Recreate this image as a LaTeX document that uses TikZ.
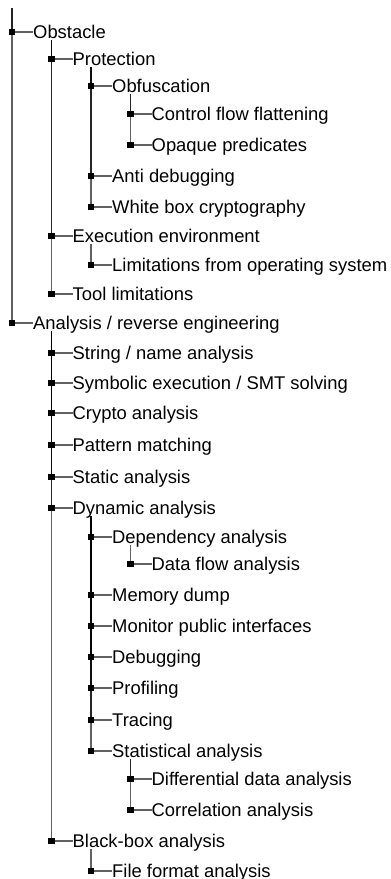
\documentclass[tikz,border=0pt]{standalone}
\usepackage{fontspec}
\setmainfont{Liberation Sans}
\begin{document}
\begin{tikzpicture}[x=1bp,y=-1bp,
  lbl/.style={anchor=west,inner sep=0pt,text height=13.2bp,text depth=0pt,font=\fontsize{18.4bp}{22bp}\selectfont},
  edge/.style={draw=black,draw opacity=0.62,line width=1.1bp},
  marker/.style={fill=black,inner sep=0pt,minimum size=6.5bp,rectangle}]
\useasboundingbox (0,0) rectangle (390,879);
\coordinate (root) at (12,8);
\node[lbl] (obstacle) at (33,32) {Obstacle};
\node[lbl] (protection) at (72.5,59) {Protection};
\node[lbl] (obfuscation) at (112,86) {Obfuscation};
\node[lbl] (cff) at (151.5,114) {Control flow flattening};
\node[lbl] (opaque) at (151.5,145) {Opaque predicates};
\node[lbl] (antidebug) at (112,176) {Anti debugging};
\node[lbl] (whitebox) at (112,207) {White box cryptography};
\node[lbl] (execenv) at (72.5,236) {Execution environment};
\node[lbl] (limitations) at (112,265) {Limitations from operating system};
\node[lbl] (toollim) at (72.5,294) {Tool limitations};
\node[lbl] (analysis) at (33,323) {Analysis / reverse engineering};
\node[lbl] (string) at (72.5,353) {String / name analysis};
\node[lbl] (symbolic) at (72.5,383) {Symbolic execution / SMT solving};
\node[lbl] (crypto) at (72.5,413) {Crypto analysis};
\node[lbl] (pattern) at (72.5,445) {Pattern matching};
\node[lbl] (static) at (72.5,477) {Static analysis};
\node[lbl] (dynamic) at (72.5,508) {Dynamic analysis};
\node[lbl] (dependency) at (112,537) {Dependency analysis};
\node[lbl] (dataflow) at (151.5,564) {Data flow analysis};
\node[lbl] (memdump) at (112,595) {Memory dump};
\node[lbl] (monitor) at (112,626) {Monitor public interfaces};
\node[lbl] (debugging) at (112,657) {Debugging};
\node[lbl] (profiling) at (112,688) {Profiling};
\node[lbl] (tracing) at (112,720) {Tracing};
\node[lbl] (statistical) at (112,751) {Statistical analysis};
\node[lbl] (differential) at (151.5,779) {Differential data analysis};
\node[lbl] (correlation) at (151.5,810) {Correlation analysis};
\node[lbl] (blackbox) at (72.5,841) {Black-box analysis};
\node[lbl] (fileformat) at (112,871) {File format analysis};
\draw[edge] (root) |- (obstacle.west);
\draw[edge] (root) |- (analysis.west);
\foreach \p/\c in {obstacle/protection, protection/obfuscation, obfuscation/cff, obfuscation/opaque,
  protection/antidebug, protection/whitebox, obstacle/execenv, execenv/limitations, obstacle/toollim,
  analysis/string, analysis/symbolic, analysis/crypto, analysis/pattern, analysis/static, analysis/dynamic,
  dynamic/dependency, dependency/dataflow, dynamic/memdump, dynamic/monitor, dynamic/debugging,
  dynamic/profiling, dynamic/tracing, dynamic/statistical, statistical/differential, statistical/correlation,
  analysis/blackbox, blackbox/fileformat}
  \draw[edge] ([shift={(18.5bp,-8bp)}]\p.west) |- (\c.west);
\foreach \c in {obstacle, analysis, protection, obfuscation, cff, opaque, antidebug, whitebox, execenv,
  limitations, toollim, string, symbolic, crypto, pattern, static, dynamic, dependency, dataflow, memdump,
  monitor, debugging, profiling, tracing, statistical, differential, correlation, blackbox, fileformat}
  \node[marker] (m-\c) at ([xshift=-21bp]\c.west) {};
\end{tikzpicture}
\end{document}
